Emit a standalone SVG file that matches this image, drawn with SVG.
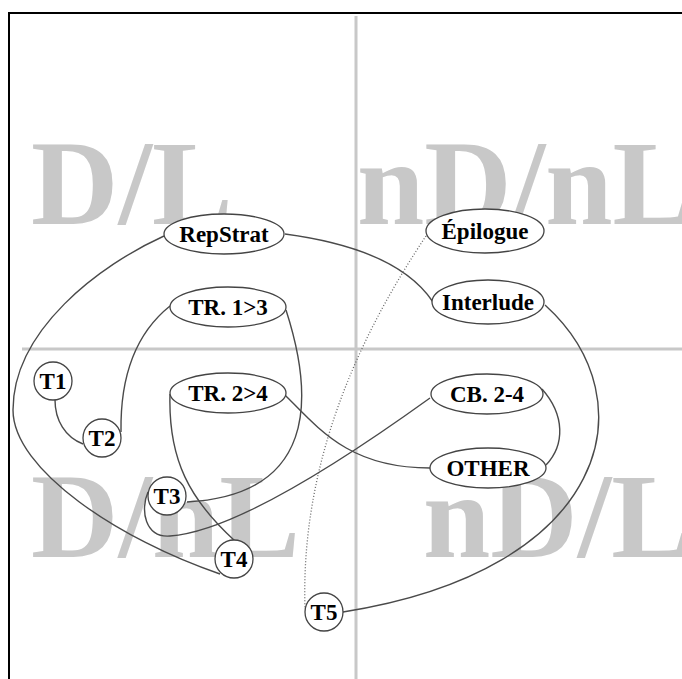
<svg xmlns="http://www.w3.org/2000/svg" width="682" height="679" viewBox="0 0 682 679">
<style>
.bg{fill:#c8c8c8;font-family:"Liberation Serif","Times New Roman",serif;font-weight:bold;font-size:121px}
.q{stroke:#c8c8c8;stroke-width:3;fill:none}
.n{fill:#fff;stroke:#444;stroke-width:1.3}
.t{font-family:"Liberation Serif","Times New Roman",serif;font-weight:bold;font-size:23px;fill:#000;text-anchor:middle}
.e{fill:none;stroke:#4a4a4a;stroke-width:1.4}
.d{fill:none;stroke:#666;stroke-width:1.3;stroke-dasharray:1 2}
</style>
<rect x="0" y="0" width="682" height="679" fill="#fff"/>
<rect x="9" y="13" width="700" height="700" fill="none" stroke="#000" stroke-width="2"/>
<g id="quadrants">
<line class="q" x1="356" y1="16" x2="356" y2="679"/>
<line class="q" x1="22" y1="349" x2="682" y2="349"/>
<text class="bg" x="31" y="224">D/L</text>
<text class="bg" x="357" y="224">nD/nL</text>
<text class="bg" x="31" y="557">D/nL</text>
<text class="bg" x="423" y="557">nD/L</text>
</g>
<g id="connectors">
<path class="e" d="M164,236 C100,265 13,330 13,410 C13,470 120,540 220,574"/>
<path class="e" d="M285,234 C345,242 405,260 433,302"/>
<path class="d" d="M426,236 C370,320 300,450 305,608"/>
<path class="e" d="M545,305 C650,400 610,570 343,612"/>
<path class="e" d="M170,306 C140,330 120,370 121,432"/>
<path class="e" d="M55,400 C55,420 65,437 83,444"/>
<path class="e" d="M286,310 C315,400 315,495 187,502"/>
<path class="e" d="M170,394 C168,460 190,500 235,541"/>
<path class="e" d="M285,395 C320,430 350,468 430,468"/>
<path class="e" d="M430,398 C330,470 230,532 170,536 C145,538 140,510 148,492"/>
<path class="e" d="M542,389 C565,415 565,445 546,465"/>
</g>
<g id="RepStrat"><ellipse class="n" cx="224" cy="234" rx="60" ry="20"/><text class="t" x="224" y="241.5">RepStrat</text></g>
<g id="Epilogue"><ellipse class="n" cx="485" cy="231" rx="59" ry="22"/><text class="t" x="485" y="238.5">Épilogue</text></g>
<g id="TR13"><ellipse class="n" cx="228" cy="307" rx="58" ry="20"/><text class="t" x="228" y="314.5">TR. 1&gt;3</text></g>
<g id="Interlude"><ellipse class="n" cx="488" cy="302" rx="56" ry="22"/><text class="t" x="488" y="309.5">Interlude</text></g>
<g id="TR24"><ellipse class="n" cx="228" cy="393" rx="58" ry="20"/><text class="t" x="228" y="400.5">TR. 2&gt;4</text></g>
<g id="CB24"><ellipse class="n" cx="487" cy="394" rx="56" ry="20"/><text class="t" x="487" y="401.5">CB. 2-4</text></g>
<g id="OTHER"><ellipse class="n" cx="488" cy="468" rx="58" ry="20"/><text class="t" x="488" y="475.5">OTHER</text></g>
<g id="T1"><circle class="n" cx="53" cy="381" r="19"/><text class="t" x="53" y="388.5">T1</text></g>
<g id="T2"><circle class="n" cx="102" cy="438" r="19"/><text class="t" x="102" y="445.5">T2</text></g>
<g id="T3"><circle class="n" cx="167" cy="496" r="19"/><text class="t" x="167" y="503.5">T3</text></g>
<g id="T4"><circle class="n" cx="234" cy="559" r="19"/><text class="t" x="234" y="566.5">T4</text></g>
<g id="T5"><circle class="n" cx="324" cy="612" r="19"/><text class="t" x="324" y="619.5">T5</text></g>
</svg>
